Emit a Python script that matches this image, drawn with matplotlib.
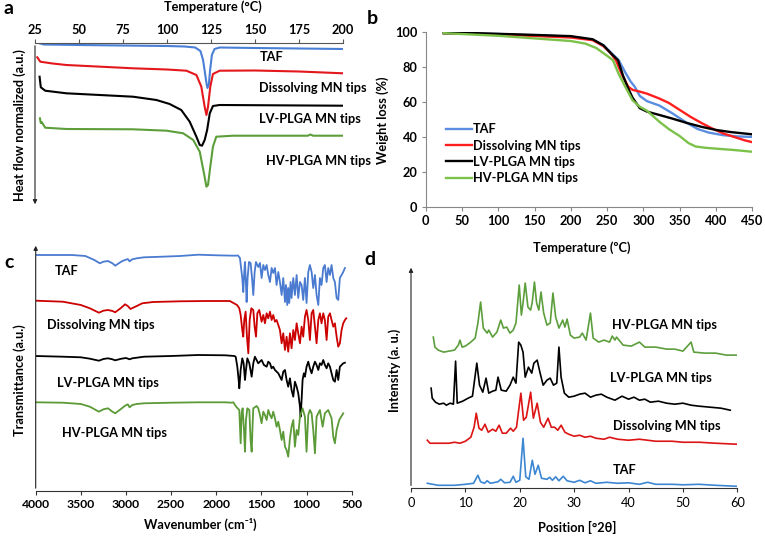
import matplotlib.pyplot as plt

plt.rcParams['font.family'] = ['Lato', 'DejaVu Sans']

W, H = 765, 537

labels = ['TAF', 'Dissolving MN tips', 'LV-PLGA MN tips', 'HV-PLGA MN tips']

# ---- a: DSC (temperature in C, heat flow in a.u.) ----
dsc_taf_t = [27, 30, 50, 75, 100, 110, 116, 119, 120.5, 121.5, 122.5, 123, 123.8, 124.5, 125.5, 127, 130, 150, 175, 200]
dsc_taf = [164, 162.5, 162, 161.5, 161, 160.5, 159.5, 156, 147, 135, 123, 119, 123, 137, 152, 158, 159.5, 159, 158.5, 158]
dsc_dis_t = [26.3, 28, 35, 42.8, 60, 80.7, 100, 111, 116.7, 119.5, 121.4, 122.4, 123.3, 124.6, 126.1, 129.9, 150, 175, 200]
dsc_dis = [149.7, 145.3, 143.5, 142, 140.5, 138.7, 137.5, 136.3, 132, 120.3, 100.3, 92, 100.3, 120.3, 133, 136.3, 136.5, 135.5, 133.7]
dsc_lv_t = [27.6, 28.3, 30.8, 42.8, 61.8, 80.7, 94, 101.5, 108.1, 112.9, 116.7, 118.6, 119.9, 121.4, 122.8, 124.3, 126.1, 129.9, 200]
dsc_lv = [130.3, 119.7, 116.3, 113.7, 112, 110.3, 107, 103, 97, 85.3, 70.3, 62, 61.3, 67, 77, 93.7, 101, 102, 101.3]
dsc_hv_t = [27.8, 28.3, 28.8, 30.8, 42.8, 80.7, 99.8, 109.2, 114.9, 118.6, 121, 122.4, 123.3, 124.6, 126.1, 128, 137.5, 180, 181.5, 183, 200]
dsc_hv = [88.7, 84, 85, 79.3, 78, 77.7, 76.3, 73.7, 67, 55.3, 33.7, 20.3, 22, 40.3, 60.3, 70.3, 71.3, 71.3, 72.5, 71.3, 71.3]

# ---- b: TGA (temperature in C, weight %) ----
tga_taf_t = [25, 100, 200, 230, 245, 255, 266, 275, 282, 288, 295, 305, 322, 340, 360, 375, 390, 410, 430, 450]
tga_taf = [99.5, 99, 97.5, 95.8, 92.5, 88.5, 84, 77, 72, 68.8, 63.5, 60.5, 58, 53.5, 48, 44.5, 42.5, 41, 40.3, 40]
tga_dis_t = [25, 100, 200, 230, 245, 255, 262, 270, 279, 285, 295, 305, 322, 335, 350, 365, 380, 395, 410, 425, 440, 450]
tga_dis = [99.5, 98.8, 97, 95.5, 92, 88, 84, 76, 68.8, 67, 66, 64.8, 62, 59.5, 55.5, 51.5, 48, 44.8, 42, 40, 38, 37]
tga_lv_t = [25, 70, 150, 200, 230, 245, 255, 265, 272, 278, 285, 295, 305, 322, 340, 360, 380, 400, 420, 450]
tga_lv = [99.5, 99.5, 98.5, 97.8, 96, 92.5, 88, 84, 75, 68.8, 62.5, 56.5, 54.5, 52.6, 50.5, 48, 45.8, 44, 42.8, 41.5]
tga_hv_t = [25, 100, 150, 200, 220, 235, 250, 258, 266, 275, 285, 295, 305, 322, 335, 350, 362, 372, 385, 400, 425, 450]
tga_hv = [99.5, 98, 96.5, 95, 93.5, 91, 86.5, 84, 76, 68.8, 61, 57.3, 55, 48.7, 44.5, 40.5, 36.5, 34.5, 33.8, 33.3, 32.5, 31.5]

# ---- c: FTIR (wavenumber cm-1, transmittance a.u., stacked) ----
ir_taf_w = [4000, 3600, 3450, 3350, 3290, 3250, 3200, 3150, 3120, 3080, 3040, 3010, 2980, 2960, 2930, 2880, 2800, 2600,
            2400, 2200, 2000, 1800, 1760, 1738, 1712, 1701, 1690, 1682, 1671, 1664, 1653, 1638, 1620, 1604, 1590, 1575,
            1560, 1535, 1516, 1498, 1479, 1461, 1442, 1424, 1405, 1387, 1369, 1350, 1332, 1313, 1295, 1276, 1258, 1239,
            1228, 1214, 1203, 1192, 1177, 1166, 1147, 1129, 1110, 1092, 1073, 1055, 1037, 1018, 1000, 981, 963, 944, 926,
            907, 889, 870, 852, 834, 815, 797, 778, 760, 741, 723, 704, 686, 667, 649, 631, 612, 594, 575]
ir_taf = [236, 236, 235, 231, 227.7, 229.3, 230, 227.7, 225.3, 227.7, 230, 231, 232, 229.7, 231.7, 232.7, 233.7, 234.3,
          235, 236.3, 235.7, 235.3, 235.5, 233, 213, 199, 219, 229, 206, 189, 213, 229, 228, 213, 196, 219,
          229, 224, 228, 213, 226, 221, 226, 216, 209, 223, 218, 223, 206, 219, 209, 196, 213, 189,
          206, 186, 203, 188, 209, 193, 213, 196, 216, 193, 209, 206, 191, 213, 188, 219, 226, 219, 203,
          216, 196, 186, 213, 206, 223, 226, 209, 223, 216, 226, 213, 209, 193, 191, 213, 216, 219, 223]
ir_dis_w = [4000, 3700, 3500, 3400, 3300, 3250, 3200, 3150, 3120, 3060, 3010, 2980, 2950, 2920, 2880, 2820, 2700, 2400,
            2100, 1850, 1770, 1745, 1730, 1712, 1701, 1690, 1675, 1660, 1645, 1630, 1612, 1590, 1575, 1560, 1545, 1524,
            1498, 1479, 1461, 1442, 1424, 1405, 1387, 1369, 1350, 1332, 1313, 1295, 1276, 1258, 1239, 1221, 1203, 1184,
            1166, 1147, 1129, 1110, 1092, 1073, 1055, 1037, 1018, 1000, 981, 963, 944, 926, 907, 889, 870, 852, 834, 815,
            797, 778, 760, 741, 723, 704, 686, 667, 649, 631, 612, 594, 575, 560]
ir_dis = [190.3, 189.3, 186, 182.7, 178.3, 180.3, 181, 180, 178.7, 182.7, 186.7, 185, 182, 183.3, 185, 187.7, 189, 189.7,
          190, 190, 186, 182.7, 176, 161, 154.3, 171, 179.3, 154.3, 137.7, 171, 182.7, 181, 164.3, 154.3, 177.7, 181,
          169.3, 176, 167.7, 177.7, 172.7, 179.3, 171, 176, 169.3, 171, 166, 161, 147.7, 157.7, 141, 154.3, 139.3, 157.7,
          142.7, 161, 151, 167.7, 157.7, 147.7, 164.3, 154.3, 174.3, 181, 171, 151, 177.7, 181, 164.3, 147.7, 171, 177.7,
          167.7, 177.7, 171, 151, 174.3, 177.7, 171, 164.3, 167.7, 154.3, 144.3, 147.7, 161, 167.7, 171, 172.7]
ir_lv_w = [4000, 3700, 3500, 3400, 3300, 3250, 3200, 3150, 3120, 3050, 3000, 2960, 2930, 2880, 2800, 2500, 2200, 1900,
           1800, 1785, 1767, 1752, 1745, 1730, 1712, 1697, 1682, 1671, 1656, 1634, 1608, 1590, 1572, 1535, 1498, 1472,
           1442, 1424, 1405, 1387, 1369, 1350, 1313, 1276, 1258, 1239, 1221, 1203, 1184, 1166, 1147, 1129, 1110, 1092,
           1073, 1066, 1055, 1044, 1030, 1018, 1000, 981, 963, 944, 926, 907, 889, 870, 852, 834, 815, 797, 778, 760,
           741, 723, 704, 686, 667, 649, 631, 612, 594, 575]
ir_lv = [135, 134.3, 133.7, 132.3, 130.3, 132, 132.7, 131.7, 130.7, 132.3, 133, 131.7, 132.7, 133.3, 134.3, 135, 136, 135.7,
         135, 134.3, 124.3, 111, 102.7, 121, 132.7, 127.7, 111, 121, 132.7, 127.7, 114.3, 127.7, 134.3, 127.7, 131, 126,
         124.3, 129.3, 127.7, 122.7, 124.3, 121, 117.7, 111, 119.3, 121, 111, 104.3, 112.7, 101, 94.3, 109.3, 104.3, 97.7,
         84.3, 74.3, 91, 111, 117.7, 114.3, 124.3, 129.3, 122.7, 117.7, 124.3, 129.3, 126, 121, 127.7, 126, 131, 126, 122.7, 127.7,
         124.3, 117.7, 111, 109.3, 121, 111, 124.3, 126, 127.7, 128.3]
ir_hv_w = [4000, 3700, 3500, 3400, 3300, 3250, 3200, 3150, 3120, 3060, 3010, 2980, 2960, 2930, 2880, 2800, 2500, 2200,
           1900, 1830, 1811, 1793, 1774, 1745, 1730, 1719, 1708, 1693, 1682, 1671, 1656, 1634, 1620, 1608, 1597, 1590,
           1553, 1535, 1516, 1498, 1479, 1461, 1442, 1424, 1405, 1387, 1369, 1350, 1332, 1313, 1295, 1276, 1258, 1239,
           1221, 1203, 1184, 1166, 1147, 1129, 1110, 1092, 1073, 1044, 1018, 1000, 981, 963, 944, 926, 907, 889, 852,
           822, 797, 760, 723, 704, 686, 667, 638, 612, 594]
ir_hv = [88.7, 88.3, 87, 84.3, 79.3, 81.7, 82.7, 79.3, 77.7, 81.7, 85.3, 86.7, 83.7, 86, 87, 87.7, 88.3, 88.7,
         88.7, 88.3, 88.7, 86, 83.7, 81, 47.7, 77.7, 82.7, 61, 39.3, 71, 82.7, 81, 51, 39.3, 67.7, 82.7,
         85, 82.7, 76, 67.7, 79.3, 76, 71, 81, 76, 72.7, 79.3, 72.7, 64.3, 69.3, 61, 51, 59.3, 44.3,
         41, 34.3, 52.7, 64.3, 71, 44.3, 61, 56, 74.3, 82.7, 74.3, 39.3, 76, 81, 77.7, 61, 37.7, 74.3, 81,
         64.3, 77.7, 81, 72.7, 54.3, 47.7, 61, 71, 75, 77.7]

# ---- d: XRD (2theta, intensity a.u., stacked) ----
xrd_taf_x = [3, 5, 8, 10, 11.5, 12.3, 12.8, 13.5, 14, 14.6, 16, 16.5, 17.2, 18.2, 18.8, 19.3, 20, 20.6, 21.1, 21.7, 22.3,
             22.8, 23.4, 24, 25, 25.5, 26, 26.6, 27.2, 28, 28.7, 30, 31, 32, 33, 34, 36, 38, 40, 42, 43.5, 45, 48, 50,
             53, 56, 60]
xrd_taf = [5, 3, 3, 4, 5, 13, 6.5, 5, 7.5, 5, 6.5, 9, 5.5, 6, 12, 6, 8, 50, 11.5, 9, 28,
           14, 23, 10, 9, 11, 8, 11.5, 7.5, 12, 7.5, 6, 8, 5.5, 7.5, 5, 6, 5, 5.5, 4, 6, 4, 4, 3.5,
           4, 3, 2]
xrd_dis_x = [3, 3.5, 5, 7, 8, 9, 10, 11, 11.6, 12, 12.5, 13, 13.6, 14.2, 15, 15.6, 16.2, 16.8, 17.5, 18.3, 18.8, 19.4,
             20.2, 20.7, 21.2, 22, 22.5, 23.2, 23.8, 24.4, 25.2, 25.8, 26.4, 27, 27.6, 28.3, 29, 30, 31, 32, 33, 34,
             35.5, 36.5, 38, 40, 42, 45, 48, 50, 53, 56, 60]
xrd_dis = [48, 45, 45, 45, 46, 45, 47, 51, 61, 75, 60, 58, 64, 56, 59, 57, 63, 55, 55, 60, 57, 61,
           95, 68, 71, 96, 70, 85, 66, 61, 70, 61, 61, 58, 63, 56, 54, 52, 53, 51, 52, 50,
           49, 51, 49, 48, 49, 47, 47, 46, 46, 45, 44]
xrd_lv_x = [3.7, 3.9, 4.5, 5.2, 6, 6.5, 7.2, 7.8, 8.2, 8.5, 9.5, 10.5, 11.3, 12.1, 12.6, 13.2, 13.8, 14.3, 15, 15.6, 16,
            16.6, 17.5, 18.2, 18.8, 19.3, 19.8, 20.2, 20.6, 21, 21.6, 22.2, 22.6, 23.2, 23.7, 24.3, 25, 25.6, 26.2, 26.8,
            27.2, 27.6, 28.2, 29, 30, 31, 32, 33, 34, 35, 36, 37.5, 38.8, 40, 41, 42, 43, 44, 45.5, 47, 48.5, 50,
            51.5, 53, 55, 57, 58.7]
xrd_lv = [100, 90, 86, 84, 85, 83, 85, 84, 127, 85, 87, 90, 92, 125, 103, 96, 110, 95, 97, 98, 111,
          98, 97, 103, 111, 105, 146, 143, 136, 111, 121, 115, 125, 128, 116, 103, 108, 110, 103, 105,
          141, 111, 95, 91, 92, 94, 95, 91, 93, 94, 91, 88, 92, 89, 91, 88, 89, 86, 87, 85, 84, 85,
          83, 82, 81, 80, 78]
xrd_hv_x = [4.1, 4.4, 5, 6, 7, 8, 8.7, 9, 9.4, 10, 11, 11.8, 12.3, 12.8, 13.3, 14, 14.3, 15, 15.8, 16.5, 17, 17.6, 18.2,
            18.8, 19.3, 19.9, 20.3, 20.6, 21, 21.5, 22, 22.3, 22.7, 23.1, 23.5, 23.9, 24.4, 25, 25.6, 26.1, 26.6, 27.2,
            27.9, 28.3, 28.7, 29.3, 30, 31, 31.5, 32.2, 33, 33.5, 34.5, 35.5, 36.5, 37, 37.5, 37.8, 39, 40.5, 42, 43,
            45, 47, 48.5, 50, 51.5, 52, 54, 56, 58, 60.5]
xrd_hv = [151, 141, 138, 136, 137, 138, 143, 148, 141, 142, 146, 150, 165, 186, 160, 155, 158, 151, 156, 168, 160, 161, 155,
          158, 165, 203, 173, 185, 205, 181, 178, 186, 206, 185, 178, 196, 175, 163, 165, 195, 171, 160,
          168, 161, 169, 153, 150, 151, 155, 148, 175, 150, 146, 148, 146, 152, 148, 151, 143, 142, 146, 141,
          141, 139, 139, 137, 146, 136, 135, 135, 133, 133]

colors_a = ['#4a7fd6', '#e3171c', '#000000', '#5c9e3a']
colors_b = ['#5b8ee0', '#ff1f1f', '#000000', '#7cc24a']
colors_c = ['#4a7bd0', '#cc0000', '#000000', '#5b9a36']
colors_d = ['#3c86d2', '#dd1414', '#000000', '#5c9e3c']

FS = 9.2


def box(l, t, r, b):
    return [l / W, 1 - b / H, (r - l) / W, (b - t) / H]


def ftext(x, y, s, **kw):
    fig.text(x / W, 1 - y / H, s, **kw)


fig = plt.figure(figsize=(W / 100, H / 100), dpi=100)

# ---------- a ----------
ax = fig.add_axes(box(35, 43, 343, 207))
for t, v, c in zip([dsc_taf_t, dsc_dis_t, dsc_lv_t, dsc_hv_t], [dsc_taf, dsc_dis, dsc_lv, dsc_hv], colors_a):
    ax.plot(t, v, color=c, lw=1.5)
ax.set_xlim(25, 200)
ax.set_ylim(0, 164)
ax.xaxis.tick_top()
ax.set_xticks([25, 50, 75, 100, 125, 150, 175, 200])
ax.tick_params(axis='x', direction='out', length=3, width=0.8, color='#555555', labelsize=FS, pad=2)
for lab in ax.get_xticklabels():
    lab.set_fontweight('bold')
ax.set_yticks([])
for s in ['left', 'right', 'bottom']:
    ax.spines[s].set_visible(False)
ax.spines['top'].set_color('#555555')
ax.annotate('', xy=(0, 0), xytext=(0, 1), xycoords='axes fraction',
            arrowprops=dict(arrowstyle='-|>', color='#222222', lw=0.8, mutation_scale=6))
ftext(213, 7, 'Temperature (°C)', ha='center', va='center', fontsize=FS, fontweight='bold')
ftext(20, 125, 'Heat flow normalized (a.u.)', ha='center', va='center', rotation=90, fontsize=FS, fontweight='bold')
ftext(260, 57, labels[0], ha='left', va='center', fontsize=FS, fontweight='bold')
ftext(259, 88, labels[1], ha='left', va='center', fontsize=FS, fontweight='bold')
ftext(259, 119, labels[2], ha='left', va='center', fontsize=FS, fontweight='bold')
ftext(266, 161, labels[3], ha='left', va='center', fontsize=FS, fontweight='bold')

# ---------- b ----------
ax = fig.add_axes(box(425.7, 32.3, 752.3, 206.7))
for t, v, c, lab in zip([tga_taf_t, tga_dis_t, tga_lv_t, tga_hv_t], [tga_taf, tga_dis, tga_lv, tga_hv], colors_b, labels):
    ax.plot(t, v, color=c, lw=1.7, label=lab)
ax.set_xlim(0, 450)
ax.set_ylim(0, 100)
ax.set_xticks(range(0, 451, 50))
ax.set_yticks(range(0, 101, 20))
ax.tick_params(direction='out', length=3, width=0.8, color='#888888', labelsize=FS, pad=3)
for lab in ax.get_xticklabels() + ax.get_yticklabels():
    lab.set_fontweight('bold')
for s in ['top', 'right']:
    ax.spines[s].set_visible(False)
for s in ['left', 'bottom']:
    ax.spines[s].set_color('#888888')
ax.legend(loc='upper left', bbox_to_anchor=(440 / W, 1 - 117 / H), bbox_transform=fig.transFigure,
          frameon=False, handlelength=2.0, handletextpad=0.1, labelspacing=0.33, borderpad=0,
          prop={'weight': 'bold', 'size': FS})
ftext(582, 248, 'Temperature (ºC)', ha='center', va='center', fontsize=FS, fontweight='bold')
ftext(383, 120, 'Weight loss (%)', ha='center', va='center', rotation=90, fontsize=FS, fontweight='bold')

# ---------- c ----------
ax = fig.add_axes(box(35.7, 243, 351.7, 491))
for w, v, c in zip([ir_taf_w, ir_dis_w, ir_lv_w, ir_hv_w], [ir_taf, ir_dis, ir_lv, ir_hv], colors_c):
    ax.plot(w, v, color=c, lw=1.3)
ax.set_xlim(4000, 500)
ax.set_ylim(0, 248)
ax.set_xticks(range(4000, 499, -500))
ax.set_yticks([])
ax.tick_params(axis='x', direction='out', length=3, width=0.8, color='#333333', labelsize=8.7, pad=3)
for lab in ax.get_xticklabels():
    lab.set_fontweight('bold')
for s in ['top', 'right', 'left']:
    ax.spines[s].set_visible(False)
ax.spines['bottom'].set_color('#333333')
ax.annotate('', xy=(0, 1), xytext=(0, 0), xycoords='axes fraction',
            arrowprops=dict(arrowstyle='-|>', color='#222222', lw=0.8, mutation_scale=6))
ftext(200, 524, 'Wavenumber (cm⁻¹)', ha='center', va='center', fontsize=FS, fontweight='bold')
ftext(20, 380, 'Transmittance (a.u.)', ha='center', va='center', rotation=90, fontsize=FS, fontweight='bold')
ftext(55, 271, labels[0], ha='left', va='center', fontsize=FS, fontweight='bold')
ftext(47, 325, labels[1], ha='left', va='center', fontsize=FS, fontweight='bold')
ftext(57, 383, labels[2], ha='left', va='center', fontsize=FS, fontweight='bold')
ftext(62, 433, labels[3], ha='left', va='center', fontsize=FS, fontweight='bold')

# ---------- d ----------
ax = fig.add_axes(box(411, 265, 737.3, 488.3))
for x, v, c in zip([xrd_taf_x, xrd_dis_x, xrd_lv_x, xrd_hv_x], [xrd_taf, xrd_dis, xrd_lv, xrd_hv], colors_d):
    ax.plot(x, v, color=c, lw=1.2)
ax.set_xlim(0, 60)
ax.set_ylim(0, 223)
ax.set_xticks(range(0, 61, 10))
ax.set_yticks([])
ax.tick_params(axis='x', direction='out', length=3, width=0.8, color='#333333', labelsize=FS, pad=3)
for s in ['top', 'right', 'left']:
    ax.spines[s].set_visible(False)
ax.spines['bottom'].set_color('#333333')
ax.annotate('', xy=(0, 1), xytext=(0, 0), xycoords='axes fraction',
            arrowprops=dict(arrowstyle='-|>', color='#222222', lw=0.8, mutation_scale=6))
ftext(577, 527, 'Position [°2θ]', ha='center', va='center', fontsize=FS, fontweight='bold')
ftext(395, 370, 'Intensity (a. u.)', ha='center', va='center', rotation=90, fontsize=FS, fontweight='bold')
ftext(612, 325, labels[3], ha='left', va='center', fontsize=FS, fontweight='bold')
ftext(610, 378, labels[2], ha='left', va='center', fontsize=FS, fontweight='bold')
ftext(613, 426, labels[1], ha='left', va='center', fontsize=FS, fontweight='bold')
ftext(613, 470, labels[0], ha='left', va='center', fontsize=FS, fontweight='bold')

# panel letters
for x, y, s in [(9, 9, 'a'), (372, 18, 'b'), (9, 262, 'c'), (370, 260, 'd')]:
    ftext(x, y, s, ha='center', va='center', fontsize=14, fontweight='bold')

fig.savefig('out.png', dpi=100)
